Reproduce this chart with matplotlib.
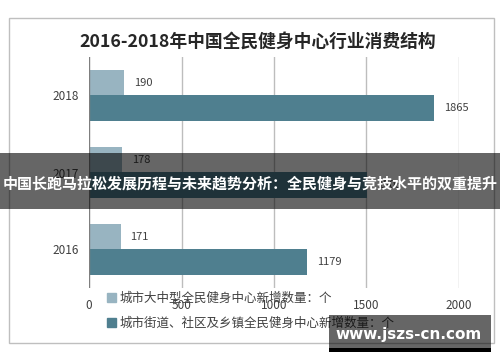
import matplotlib
matplotlib.use("Agg")
from matplotlib import pyplot as plt
from matplotlib.patches import Rectangle
import numpy as np

plt.rcParams['font.family'] = ['Noto Sans CJK SC', 'DejaVu Sans']

# data
years = ['2016', '2017', '2018']
large_centres = [171, 178, 190]
street_centres = [1179, 1505, 1865]
x_ticks = [0, 500, 1000, 1500, 2000]

title = '2016-2018年中国全民健身中心行业消费结构'
legend_labels = ['城市大中型全民健身中心新增数量：个',
                 '城市街道、社区及乡镇全民健身中心新增数量：个']
banner = '中国长跑马拉松发展历程与未来趋势分析：全民健身与竞技水平的双重提升'
watermark = 'www.jszs-cn.com'

light = '#98b4c1'
dark = '#4f7f8f'
W, H = 500, 362

fig = plt.figure(figsize=(5, 3.62), dpi=100)
fig.patch.set_facecolor('white')

# outer chart frame
fig.patches.append(Rectangle((9 / W, 1 - 343 / H), 485 / W, 325 / H,
                             transform=fig.transFigure, fill=False,
                             edgecolor='#bfbfbf', lw=1))

ax = fig.add_axes([89 / W, 1 - 288 / H, 370 / W, 231 / H])
y = np.arange(len(years))
h = 0.336
ax.barh(y + h / 2, large_centres, height=h, color=light, zorder=3)
ax.barh(y - h / 2, street_centres, height=h, color=dark, zorder=3)

for yi, v in zip(y, large_centres):
    ax.annotate(str(v), (v, yi + h / 2), xytext=(7, 0), textcoords='offset points',
                va='center', ha='left', fontsize=8, color='#404040')
for yi, v in zip(y, street_centres):
    ax.annotate(str(v), (v, yi - h / 2), xytext=(7, 0), textcoords='offset points',
                va='center', ha='left', fontsize=8, color='#404040')

ax.set_xlim(0, 2000)
ax.set_ylim(-0.5, 2.5)
ax.set_xticks(x_ticks)
ax.set_xticklabels([str(t) for t in x_ticks])
ax.set_yticks(y)
ax.set_yticklabels(years)
ax.tick_params(axis='both', length=0, labelsize=8.5, labelcolor='#404040')
ax.tick_params(axis='x', pad=8)
ax.tick_params(axis='y', pad=7)
for s in ax.spines.values():
    s.set_visible(False)
for t in x_ticks[1:]:
    ax.axvline(t, color='#bdbdbd', lw=1, zorder=1)
ax.axvline(0, color='#7f7f7f', lw=1, zorder=4)

fig.text(258 / W, 1 - 42 / H, title, ha='center', va='center',
         fontsize=12.8, fontweight='bold', color='#262626')

# legend below the plot
handles = [Rectangle((0, 0), 1, 1, color=light), Rectangle((0, 0), 1, 1, color=dark)]
fig.legend(handles, legend_labels, loc='upper left',
           bbox_to_anchor=(102 / W, 1 - 287 / H), frameon=False,
           fontsize=9, labelcolor='#404040', handlelength=0.7, handleheight=0.7,
           handletextpad=0.3, labelspacing=0.95, borderaxespad=0)

# overlay banner
fig.patches.append(Rectangle((0, 1 - 209 / H), 1, 56 / H, transform=fig.transFigure,
                             facecolor='black', alpha=0.6, zorder=10))
fig.text(0.5, 1 - 184 / H, banner, ha='center', va='center', fontsize=10.8,
         fontweight='bold', color='white', zorder=11)

# watermark box
fig.patches.append(Rectangle((329 / W, 1 - 348 / H), 162 / W, 33 / H,
                             transform=fig.transFigure, facecolor='black',
                             alpha=0.6, zorder=10))
fig.patches.append(Rectangle((329 / W, 1 - 352 / H), 162 / W, 4 / H,
                             transform=fig.transFigure, facecolor='black', zorder=10))
fig.text(409 / W, 1 - 334 / H, watermark, ha='center', va='center', fontsize=11,
         fontweight='bold', color='white', family='DejaVu Sans', zorder=11)

fig.savefig('out.png', dpi=100)
